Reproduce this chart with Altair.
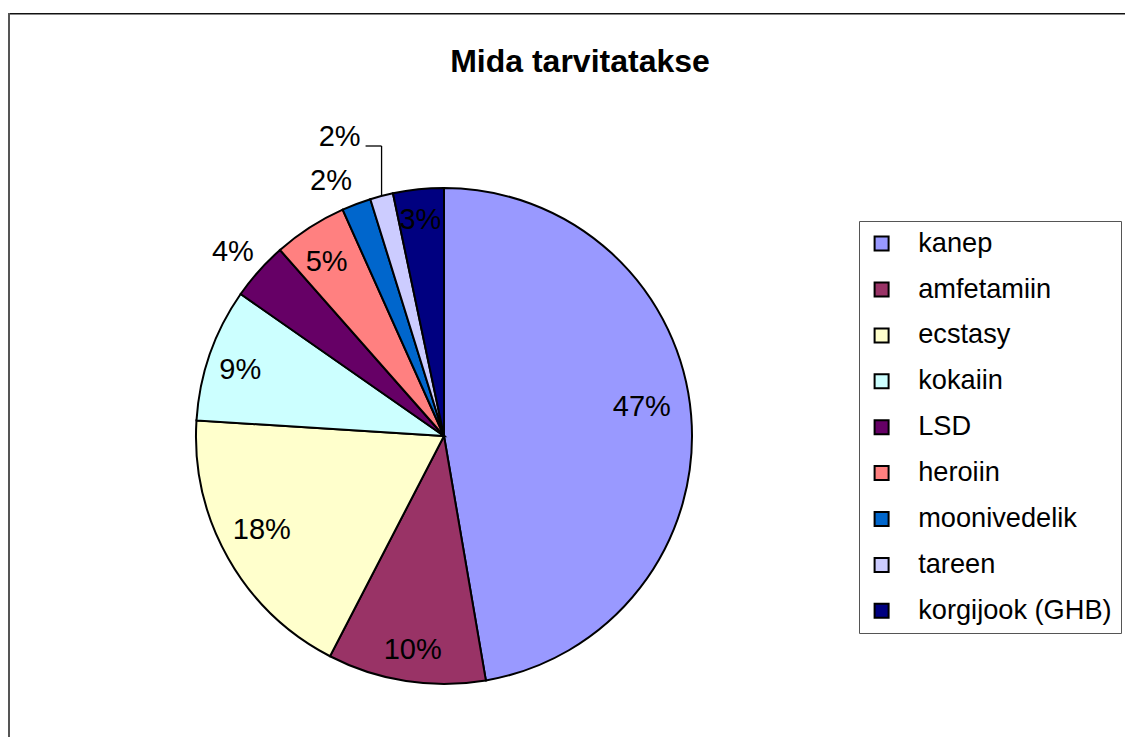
import altair as alt
import pandas as pd

names = ["kanep", "amfetamiin", "ecstasy", "kokaiin", "LSD", "heroiin",
         "moonivedelik", "tareen", "korgijook (GHB)"]
values = [47.3, 10.3, 18.4, 8.7, 3.8, 4.8, 1.9, 1.5, 3.3]
labels = ["47%", "10%", "18%", "9%", "4%", "5%", "2%", "2%", "3%"]
colors = ["#9999FF", "#993366", "#FFFFCC", "#CCFFFF", "#660066", "#FF8080",
          "#0066CC", "#CCCCFF", "#000080"]

df = pd.DataFrame({"name": names, "value": values, "label": labels,
                   "order": list(range(len(names)))})

W, H = 1117, 724
CX, CY, R = 436, 423, 248
FONT = "Liberation Sans"

# label placement style (radius in px, angular nudge in degrees)
lab_r = {"kanep": 200, "amfetamiin": 216, "ecstasy": 205, "kokaiin": 214,
         "LSD": 280, "heroiin": 210, "moonivedelik": 279, "korgijook (GHB)": 217}
lab_da = {"kanep": -3.5, "amfetamiin": -0.5, "ecstasy": 2.2, "kokaiin": -1.4,
          "LSD": -0.7, "heroiin": -1.2, "moonivedelik": -3.2, "korgijook (GHB)": -0.3}


def js_obj(d):
    return "{" + ",".join(f"'{k}':{v}" for k, v in d.items()) + "}"


base = (
    alt.Chart(df)
    .transform_window(cum="sum(value)", sort=[alt.SortField("order")])
    .transform_joinaggregate(total="sum(value)")
    .transform_calculate(mid="(datum.cum - datum.value/2)/datum.total*2*PI")
)

arcs = alt.Chart(df).mark_arc(outerRadius=R, stroke="black", strokeWidth=2).encode(
    theta=alt.Theta("value:Q", stack=True),
    color=alt.Color(
        "name:N",
        scale=alt.Scale(domain=names, range=colors),
        legend=alt.Legend(
            title=None, orient="none", legendX=851, legendY=208,
            direction="vertical", symbolType="square", symbolSize=196,
            symbolStrokeColor="black", symbolStrokeWidth=2,
            labelFont=FONT, labelFontSize=27.2, labelColor="black",
            labelLimit=400, labelOffset=23, rowPadding=17.9, padding=9,
            strokeColor="#555555",
        ),
    ),
    order=alt.Order("order:Q"),
    x=alt.value(CX),
    y=alt.value(CY),
)

texts = (
    base.transform_filter("datum.name != 'tareen'")
    .transform_calculate(
        r=f"{js_obj(lab_r)}[datum.name]",
        a=f"datum.mid + {js_obj(lab_da)}[datum.name]*PI/180",
    )
    .transform_calculate(
        lx=f"{CX} + datum.r*sin(datum.a)",
        ly=f"{CY} - datum.r*cos(datum.a)",
    )
    .mark_text(font=FONT, fontSize=29, color="black", baseline="middle", align="center")
    .encode(
        x=alt.X("lx:Q", scale=None, axis=None),
        y=alt.Y("ly:Q", scale=None, axis=None),
        text="label:N",
    )
)

lead = (
    base.transform_filter("datum.name == 'tareen'")
    .transform_calculate(
        px=f"{CX} + {R}*sin(datum.mid)",
        py=f"{CY} - {R}*cos(datum.mid)",
        ty=f"{CY} - 290",
        tx=f"{CX} + {R}*sin(datum.mid) - 16",
        ly=f"{CY} - 299",
        lx=f"{CX} + {R}*sin(datum.mid) - 21",
    )
)
lead_v = lead.mark_rule(color="black", strokeWidth=1.3).encode(
    x=alt.X("px:Q", scale=None, axis=None),
    y=alt.Y("py:Q", scale=None, axis=None),
    y2="ty:Q",
)
lead_h = lead.mark_rule(color="black", strokeWidth=1.3).encode(
    x=alt.X("tx:Q", scale=None, axis=None),
    x2="px:Q",
    y=alt.Y("ty:Q", scale=None, axis=None),
)
lead_t = lead.mark_text(font=FONT, fontSize=29, color="black", baseline="middle", align="right").encode(
    x=alt.X("lx:Q", scale=None, axis=None),
    y=alt.Y("ly:Q", scale=None, axis=None),
    text="label:N",
)

one = pd.DataFrame({"t": ["Mida tarvitatakse"]})
title = alt.Chart(one).mark_text(
    font=FONT, fontSize=32, fontWeight="bold", color="black",
    baseline="alphabetic", align="center"
).encode(x=alt.value(572), y=alt.value(59), text="t:N")

frame_top = alt.Chart(one).mark_rule(color="#111111", strokeWidth=1.5).encode(
    x=alt.value(0), x2=alt.value(W), y=alt.value(0.8)
)
frame_left = alt.Chart(one).mark_rule(color="#555555", strokeWidth=2).encode(
    x=alt.value(1), y=alt.value(0), y2=alt.value(H)
)

chart = (
    alt.layer(arcs, texts, lead_v, lead_h, lead_t, title, frame_top, frame_left)
    .properties(width=W, height=H, autosize=alt.AutoSizeParams(type="none"),
                padding={"left": 0, "top": 5, "right": 0, "bottom": 0},
                background="white")
    .configure_view(strokeWidth=0)
)

chart.save("out.html", embed_options={"renderer": "svg", "actions": False})
